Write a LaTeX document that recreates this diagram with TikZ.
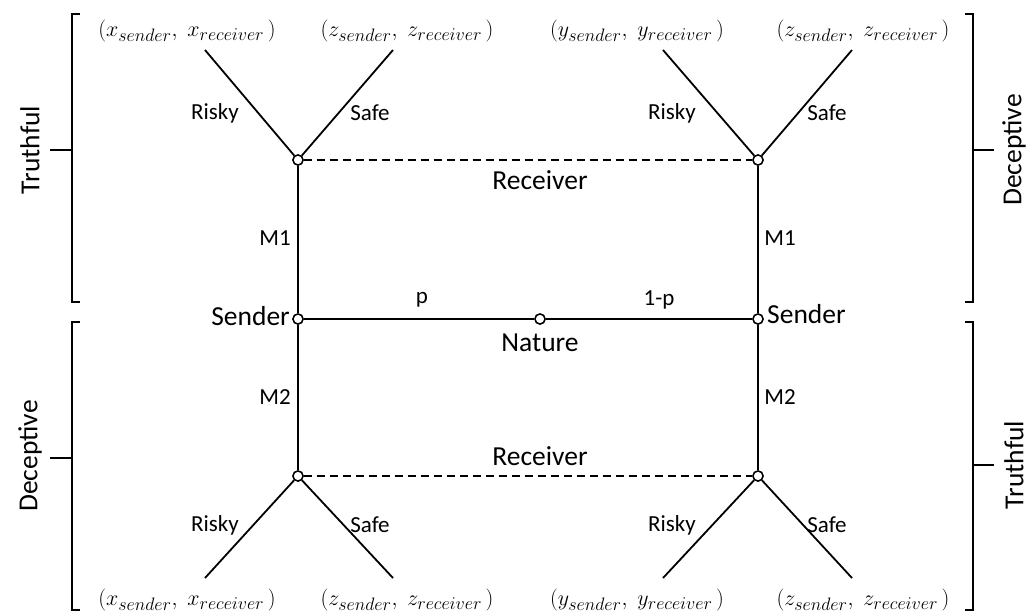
\documentclass[tikz,border=0pt]{standalone}
\usepackage{fix-cm}
\usepackage{fontspec}
\setmainfont{Carlito}
\DeclareMathSizes{22}{22}{18}{14}
\newcommand\payoff[1]{\fontsize{22}{24}\selectfont$(#1_{sender},\;#1_{receiver}\,)$}
\begin{document}
\begin{tikzpicture}[x=1pt,y=-1pt,
  dot/.style={circle,draw,fill=white,line width=1.4pt,inner sep=0pt,minimum size=10pt},
  edge/.style={line width=1.8pt},
  brk/.style={line width=1.5pt},
  lbl/.style={font=\fontsize{23}{25}\selectfont,inner sep=0pt},
  big/.style={font=\fontsize{27.5}{30}\selectfont,inner sep=0pt},
  pay/.style={inner sep=0pt}]
\useasboundingbox (0,0) rectangle (1035,614);
% decision nodes
\node[dot] (rtl) at (298,160) {};
\node[dot] (rtr) at (758,160) {};
\node[dot] (sl) at (298,319) {};
\node[dot] (sr) at (758,319) {};
\node[dot] (nat) at (540,319) {};
\node[dot] (rbl) at (298,476) {};
\node[dot] (rbr) at (758,476) {};
% terminal coordinates
\coordinate (tl1) at (205,50); \coordinate (tl2) at (393,50);
\coordinate (tr1) at (663,50); \coordinate (tr2) at (852,50);
\coordinate (bl1) at (205,578); \coordinate (bl2) at (393,578);
\coordinate (br1) at (663,578); \coordinate (br2) at (852,578);
% edges
\draw[edge] (nat) -- (sl);
\draw[edge] (nat) -- (sr);
\draw[edge] (sl) -- (rtl);
\draw[edge] (sl) -- (rbl);
\draw[edge] (sr) -- (rtr);
\draw[edge] (sr) -- (rbr);
\draw[edge] (rtl) -- (tl1); \draw[edge] (rtl) -- (tl2);
\draw[edge] (rtr) -- (tr1); \draw[edge] (rtr) -- (tr2);
\draw[edge] (rbl) -- (bl1); \draw[edge] (rbl) -- (bl2);
\draw[edge] (rbr) -- (br1); \draw[edge] (rbr) -- (br2);
\draw[line width=1.5pt,dash pattern=on 8pt off 5pt] (rtl) -- (rtr);
\draw[line width=1.5pt,dash pattern=on 8pt off 5pt] (rbl) -- (rbr);
% redraw dots on top
\foreach \n in {rtl,rtr,sl,sr,nat,rbl,rbr} {\node[dot] at (\n) {};}
% payoffs
\node[pay] (p1) at (187,31) {\payoff{x}};
\node[pay] (p2) at (407,31) {\payoff{z}};
\node[pay] (p3) at (637,31) {\payoff{y}};
\node[pay] (p4) at (863,31) {\payoff{z}};
\node[pay] (p5) at (187,600) {\payoff{x}};
\node[pay] (p6) at (407,600) {\payoff{z}};
\node[pay] (p7) at (637,600) {\payoff{y}};
\node[pay] (p8) at (863,600) {\payoff{z}};
% action labels
\node[lbl] (a1) at (215,113) {Risky};
\node[lbl] (a2) at (370,113) {Safe};
\node[lbl] (a3) at (672,113) {Risky};
\node[lbl] (a4) at (827,113) {Safe};
\node[lbl] (a5) at (215,525) {Risky};
\node[lbl] (a6) at (370,525) {Safe};
\node[lbl] (a7) at (672,525) {Risky};
\node[lbl] (a8) at (827,525) {Safe};
\node[lbl] (m1) at (275,238) {M1};
\node[lbl] (m2) at (780,238) {M1};
\node[lbl] (m3) at (275,397) {M2};
\node[lbl] (m4) at (780,397) {M2};
\node[lbl] (pp) at (422,300) {p};
\node[lbl] (qq) at (659,300) {1-p};
% player labels
\node[big] (recT) at (540,180) {Receiver};
\node[big] (recB) at (540,456) {Receiver};
\node[big] (nlab) at (540,343) {Nature};
\node[big,anchor=east] (sL) at (290,316) {Sender};
\node[big,anchor=west] (sR) at (767,314) {Sender};
% brackets
\draw[brk] (80,14) -- (72,14) -- (72,302) -- (80,302);
\draw[brk] (50,150) -- (72,150);
\draw[brk] (80,322) -- (72,322) -- (72,610) -- (80,610);
\draw[brk] (50,458) -- (72,458);
\draw[brk] (965,14) -- (973,14) -- (973,302) -- (965,302);
\draw[brk] (973,150) -- (994,150);
\draw[brk] (965,322) -- (973,322) -- (973,610) -- (965,610);
\draw[brk] (973,465) -- (994,465);
\node[big,rotate=90] (t1) at (30,150) {Truthful};
\node[big,rotate=90] (d1) at (30,456) {Deceptive};
\node[big,rotate=90] (d2) at (1014,150) {Deceptive};
\node[big,rotate=90] (t2) at (1014,465) {Truthful};
\end{tikzpicture}
\end{document}
